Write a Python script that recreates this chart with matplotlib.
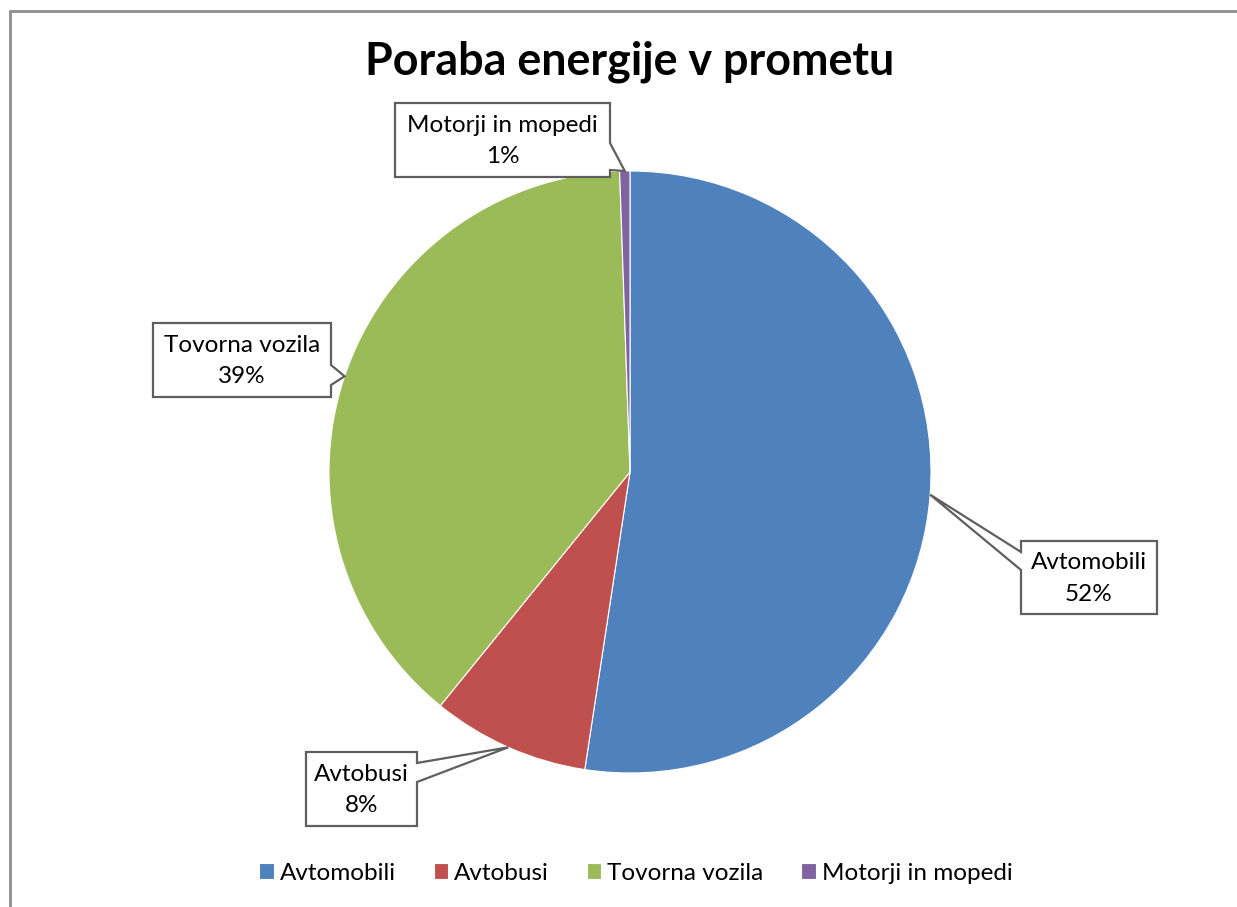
import matplotlib.pyplot as plt
from matplotlib.patches import Polygon, Rectangle
import numpy as np

plt.rcParams['font.family'] = ['Lato', 'DejaVu Sans']

categories = ['Avtomobili', 'Avtobusi', 'Tovorna vozila', 'Motorji in mopedi']
shares = [52.4, 8.45, 38.6, 0.55]
colors = ['#4F81BD', '#C0504D', '#9BBB59', '#8064A2']

W, H = 1237, 907
fig = plt.figure(figsize=(W / 100, H / 100), dpi=100)
ax = fig.add_axes([0, 0, 1, 1])

# outer chart border (runs off the right and bottom edge)
ax.add_patch(Rectangle((10, -20), W + 40, H - 11 + 20, fill=False,
                       edgecolor='#8C8C8C', linewidth=2.0))

cx, cy, r = 630, H - 472, 301
wedges, _ = ax.pie(shares, colors=colors, startangle=90, counterclock=False,
                   center=(cx, cy), radius=r, frame=True,
                   wedgeprops=dict(edgecolor='white', linewidth=0.8))
ax.set_xlim(0, W)
ax.set_ylim(0, H)
ax.set_aspect('equal')
ax.axis('off')

ax.text(630, H - 62, 'Poraba energije v prometu', ha='center', va='center',
        fontsize=32.3, fontweight='bold')


def edge_point(w):
    ang = np.deg2rad((w.theta1 + w.theta2) / 2)
    return cx + r * np.cos(ang), cy + r * np.sin(ang)


def callout(box, side, base, tip, text):
    x0, y0, x1, y1 = box  # screen coords (y down)
    b0, b1 = base
    tx, ty = tip
    if side == 'right':
        pts = [(x0, y0), (x1, y0), (x1, b0), (tx, ty), (x1, b1), (x1, y1), (x0, y1)]
    else:
        pts = [(x0, y0), (x1, y0), (x1, y1), (x0, y1), (x0, b1), (tx, ty), (x0, b0)]
    pts = [(px, H - py) for px, py in pts]
    ax.add_patch(Polygon(pts, closed=True, facecolor='white',
                         edgecolor='#5F5F5F', linewidth=1.6, zorder=5))
    ax.text((x0 + x1) / 2, H - (y0 + y1) / 2 - 1, text, ha='center', va='center',
            fontsize=17.5, linespacing=1.6, zorder=6)


labels = [f'{c}\n{s:.0f}%' for c, s in zip(categories, shares)]
tips = [edge_point(w) for w in wedges]
tips = [(x, H - y) for x, y in tips]

callout((1021, 541, 1157, 614), 'left', (552, 570), tips[0], labels[0])
callout((306, 752, 417, 826), 'right', (763, 782), tips[1], labels[1])
callout((153, 323, 331, 397), 'right', (365, 385), tips[2], labels[2])
callout((395, 103, 610, 177), 'right', (143, 170), tips[3], labels[3])

fig.legend(wedges, categories, loc='center', bbox_to_anchor=(636 / W, 1 - 873 / H),
           ncol=4, frameon=False, fontsize=17.5, handlelength=0.6, handleheight=0.6,
           handletextpad=0.25, columnspacing=1.55)

fig.savefig('out.png', dpi=100)
